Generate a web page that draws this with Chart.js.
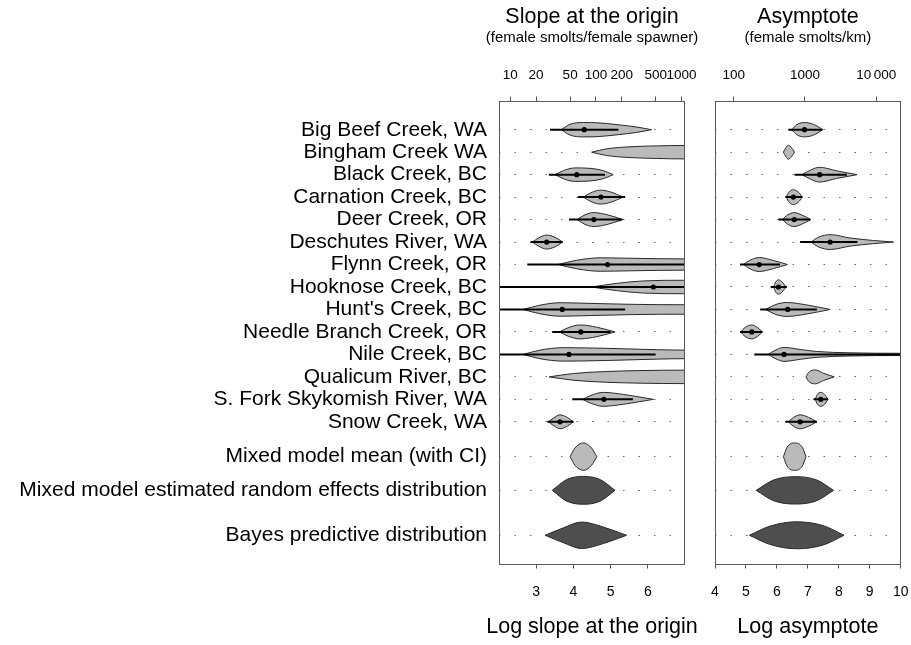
<!DOCTYPE html>
<html>
<head>
<meta charset="utf-8">
<script src="https://cdn.jsdelivr.net/npm/chart.js@4.4.0/dist/chart.umd.min.js"></script>
<style>
  html, body { margin: 0; padding: 0; background: #fff; overflow: hidden; }
  #wrap { position: relative; width: 911px; height: 645px; overflow: hidden; }
  #left { position: absolute; left: 0; top: 0; z-index: 1; }
  #right { position: absolute; left: 700px; top: 0; z-index: 2; }
</style>
</head>
<body>
<div id="wrap">
  <canvas id="left" width="1184" height="645"></canvas>
  <canvas id="right" width="211" height="645"></canvas>
</div>
<script>
var rowLabels = [
  'Big Beef Creek, WA', 'Bingham Creek WA', 'Black Creek, BC', 'Carnation Creek, BC',
  'Deer Creek, OR', 'Deschutes River, WA', 'Flynn Creek, OR', 'Hooknose Creek, BC',
  "Hunt's Creek, BC", 'Needle Branch Creek, OR', 'Nile Creek, BC', 'Qualicum River, BC',
  'S. Fork Skykomish River, WA', 'Snow Creek, WA', 'Mixed model mean (with CI)',
  'Mixed model estimated random effects distribution', 'Bayes predictive distribution'
];
var rowPos = [0, 1, 2, 3, 4, 5, 6, 7, 8, 9, 10, 11, 12, 13, 14.55, 16.05, 18.05];

// posterior outlines: [log value, half width (rows)]
var slopeShapes = [
  [[3.67,0],[3.91,0.24],[4.27,0.32],[4.63,0.31],[5.21,0.22],[5.7,0.12],[6.1,0]],
  [[4.49,0],[4.9,0.15],[5.52,0.24],[6.24,0.28],[7.0,0.3],[7.4,0.3]],
  [[3.51,0],[3.73,0.18],[4.04,0.3],[4.45,0.28],[4.8,0.18],[5.07,0]],
  [[4.27,0],[4.45,0.18],[4.72,0.31],[4.98,0.24],[5.34,0]],
  [[4.1,0],[4.31,0.21],[4.54,0.31],[4.9,0.22],[5.33,0]],
  [[2.9,0],[3.06,0.18],[3.28,0.31],[3.51,0.21],[3.71,0]],
  [[3.59,0],[4.09,0.19],[4.72,0.3],[5.52,0.28],[7.0,0.25],[7.4,0.25]],
  [[4.49,0],[5.16,0.16],[5.88,0.27],[7.0,0.3],[7.4,0.3]],
  [[2.65,0],[3.1,0.19],[3.64,0.3],[4.45,0.27],[5.52,0.23],[7.0,0.21],[7.4,0.21]],
  [[3.62,0],[3.86,0.19],[4.18,0.31],[4.63,0.21],[5.12,0]],
  [[2.65,0],[3.1,0.19],[3.73,0.3],[4.9,0.27],[6.24,0.21],[7.0,0.19],[7.4,0.19]],
  [[3.35,0],[4.0,0.15],[4.9,0.24],[5.79,0.28],[7.0,0.3],[7.4,0.3]],
  [[4.25,0],[4.45,0.16],[4.8,0.31],[5.34,0.22],[5.79,0.1],[6.15,0]],
  [[3.33,0],[3.46,0.16],[3.64,0.31],[3.84,0.19],[4.0,0]],
  [[3.91,0],[4.04,0.38],[4.27,0.61],[4.49,0.38],[4.63,0]],
  [[3.43,0],[3.82,0.48],[4.27,0.62],[4.72,0.48],[5.12,0]],
  [[3.24,0],[3.73,0.33],[4.22,0.59],[4.8,0.37],[5.43,0]]
];
var slopeCI = [[3.37,5.21], null, [3.34,4.85], [4.12,5.39], [3.88,5.3], [2.85,3.71], [2.76,7.5],
  [1.9,7.5], [2.03,5.39], [3.43,5.0], [1.9,6.21], null, [3.97,5.6], [3.3,4.0]];
var slopeEst = [4.29, null, 4.09, 4.74, 4.55, 3.28, 4.92, 6.15, 3.7, 4.2, 3.88, null, 4.82, 3.64];

var asymShapes = [
  [[6.48,0],[6.64,0.22],[6.89,0.32],[7.18,0.24],[7.49,0]],
  [[6.21,0],[6.29,0.2],[6.37,0.31],[6.47,0.2],[6.57,0]],
  [[6.81,0],[7.1,0.21],[7.37,0.33],[7.93,0.17],[8.59,0]],
  [[6.3,0],[6.4,0.24],[6.53,0.33],[6.68,0.24],[6.83,0]],
  [[6.18,0],[6.34,0.2],[6.56,0.31],[6.81,0.2],[7.1,0]],
  [[7.1,0],[7.35,0.22],[7.72,0.33],[8.37,0.18],[9.12,0.07],[9.77,0]],
  [[4.92,0],[5.13,0.19],[5.43,0.31],[5.89,0.18],[6.34,0]],
  [[5.89,0],[5.96,0.22],[6.05,0.32],[6.17,0.22],[6.3,0]],
  [[5.64,0],[5.94,0.21],[6.32,0.31],[6.97,0.2],[7.72,0]],
  [[4.83,0],[4.97,0.2],[5.19,0.31],[5.37,0.2],[5.53,0]],
  [[5.72,0],[5.94,0.18],[6.23,0.31],[6.75,0.22],[7.29,0.13],[8.37,0.07],[10,0.05],[10.4,0.05]],
  [[6.94,0],[7.02,0.19],[7.24,0.31],[7.51,0.16],[7.85,0]],
  [[7.24,0],[7.31,0.22],[7.42,0.31],[7.54,0.22],[7.65,0]],
  [[6.37,0],[6.53,0.19],[6.75,0.31],[7.02,0.2],[7.29,0]],
  [[6.21,0],[6.33,0.42],[6.57,0.61],[6.82,0.42],[6.94,0]],
  [[5.33,0],[5.89,0.46],[6.59,0.61],[7.29,0.46],[7.83,0]],
  [[5.11,0],[5.78,0.41],[6.64,0.6],[7.5,0.43],[8.17,0]]
];
var asymCI = [[6.37,7.45], null, [6.57,8.26], [6.27,6.81], [6.05,7.07], [6.75,8.6], [4.81,6.1],
  [5.8,6.32], [5.46,7.29], [4.81,5.53], [5.27,10.4], null, [7.18,7.65], [6.27,7.29]];
var asymEst = [6.89, null, 7.38, 6.53, 6.56, 7.72, 5.43, 6.05, 6.35, 5.19, 6.23, null, 7.42, 6.75];

var slopeTopTicks = [10, 20, 50, 100, 200, 500, 1000];
var slopeLogTicks = [3, 4, 5, 6];
var asymTopTicks = [100, 1000, 10000];
var asymTopText = ['100', '1000', '10\u2009000'];
var asymLogTicks = [4, 5, 6, 7, 8, 9, 10];

Chart.defaults.font.family = '"Liberation Sans", Arial, Helvetica, sans-serif';
Chart.defaults.color = '#000';

function buildDatasets(shapes, ci, est) {
  var ds = [];
  shapes.forEach(function (pts, i) {
    var dark = i >= 15;
    var y0 = rowPos[i];
    var common = {
      borderColor: '#2a2a2a', borderWidth: 1, pointRadius: 0,
      cubicInterpolationMode: 'monotone', order: 3
    };
    ds.push(Object.assign({
      data: pts.map(function (p) { return {x: p[0], y: y0 - p[1]}; }),
      fill: '+1', backgroundColor: dark ? '#4e4e4e' : '#bababa'
    }, common));
    ds.push(Object.assign({
      data: pts.map(function (p) { return {x: p[0], y: y0 + p[1]}; }),
      fill: false
    }, common));
  });
  ci.forEach(function (c, i) {
    if (!c) return;
    ds.push({
      data: [{x: c[0], y: rowPos[i]}, {x: c[1], y: rowPos[i]}],
      borderColor: '#000', borderWidth: 2, pointRadius: 0, fill: false, order: 2
    });
  });
  var dots = [];
  est.forEach(function (e, i) { if (e != null) dots.push({x: e, y: rowPos[i]}); });
  ds.push({
    data: dots, showLine: false, pointRadius: 2.6, pointBorderWidth: 0,
    pointBackgroundColor: '#000', backgroundColor: '#000', order: 1
  });
  return ds;
}

var boxPlugin = {
  id: 'box',
  afterDatasetsDraw: function (chart) {
    var a = chart.chartArea, c = chart.ctx;
    c.save();
    c.strokeStyle = '#5a5a5a';
    c.lineWidth = 1;
    c.strokeRect(Math.round(a.left) + 0.5, Math.round(a.top) + 0.5,
      Math.round(a.right - a.left) - 1, Math.round(a.bottom - a.top) - 1);
    c.restore();
  }
};

// extra title block under the plot (same element as the built-in title)
var captionBoxes = new WeakMap();
var captionPlugin = {
  id: 'caption',
  start: function (chart, args, options) {
    var box = new Chart.Title._element({ctx: chart.ctx, options: options, chart: chart});
    Chart.layouts.configure(chart, box, options);
    Chart.layouts.addBox(chart, box);
    captionBoxes.set(chart, box);
  },
  stop: function (chart) {
    Chart.layouts.removeBox(chart, captionBoxes.get(chart));
    captionBoxes.delete(chart);
  },
  beforeUpdate: function (chart, args, options) {
    var box = captionBoxes.get(chart);
    Chart.layouts.configure(chart, box, options);
    box.options = options;
  },
  defaults: {
    align: 'center', display: true, font: {weight: 'normal'}, fullSize: true,
    padding: 0, position: 'bottom', text: '', weight: 1000, color: '#000'
  }
};

function setTicks(vals) {
  return function (scale) {
    scale.ticks = vals.map(function (v) { return {value: v}; });
  };
}

function makeChart(canvas, o) {
  var scales = {
    x: {
      type: 'linear', position: 'bottom', min: o.min, max: o.max,
      afterFit: function (s) { s.height = 52; s.paddingLeft = 0; s.paddingRight = 0; },
      afterBuildTicks: setTicks(o.bottomTicks),
      ticks: {
        autoSkip: false, maxRotation: 0, padding: 15.6, font: {size: 14},
        callback: function (v, i) { return String(o.bottomTicks[i]); }
      },
      grid: {drawOnChartArea: false, drawTicks: true, tickLength: 4, color: '#555'},
      border: {display: false}
    },
    x2: {
      type: 'linear', position: 'top', min: o.min, max: o.max,
      afterFit: function (s) { s.height = 55.5; s.paddingLeft = 0; s.paddingRight = 0; },
      afterBuildTicks: setTicks(o.topTicks.map(function (v) { return Math.log(v); })),
      ticks: {
        autoSkip: false, maxRotation: 0, padding: 12.9, font: {size: 13.5},
        callback: function (v, i) { return o.topText[i]; }
      },
      grid: {drawOnChartArea: false, drawTicks: true, tickLength: 4, color: '#555'},
      border: {display: false}
    },
    y: {
      type: 'linear', min: -1.3, max: 19.35, reverse: true,
      afterFit: function (s) { s.width = o.yWidth; s.paddingTop = 0; s.paddingBottom = 0; },
      afterBuildTicks: setTicks(rowPos),
      ticks: {
        display: o.showLabels, autoSkip: false, padding: 12, font: {size: 21},
        callback: function (v, i) { return rowLabels[i]; }
      },
      grid: {drawTicks: false, color: '#666', lineWidth: 1},
      border: {display: false, dash: [1.5, 14]}
    }
  };
  if (o.rightWidth) {
    // empty right-hand box so the headings centre on the panel
    scales.yR = {
      type: 'linear', position: 'right', min: -1.3, max: 19.35,
      afterFit: function (s) { s.width = o.rightWidth; s.paddingTop = 0; s.paddingBottom = 0; },
      ticks: {display: false}, grid: {display: false}, border: {display: false}
    };
  }
  return new Chart(canvas, {
    type: 'line',
    data: {datasets: o.datasets},
    options: {
      responsive: false,
      animation: false,
      devicePixelRatio: 1,
      layout: {padding: o.padding},
      plugins: {
        legend: {display: false},
        tooltip: {enabled: false},
        filler: {drawTime: 'beforeDatasetsDraw'},
        title: {
          display: true, text: o.title, fullSize: o.wide,
          font: {size: 21.5, weight: 'normal', lineHeight: 1},
          padding: {top: 6.5, bottom: 0}
        },
        subtitle: {
          display: true, text: o.subtitle, fullSize: o.wide, color: '#000',
          font: {size: 15, lineHeight: 1},
          padding: {top: 2, bottom: 0}
        },
        caption: {
          text: o.xTitle, fullSize: o.wide,
          font: {size: 21.5, lineHeight: 1},
          padding: {top: 0, bottom: 7}
        }
      },
      scales: scales
    },
    plugins: [boxPlugin, captionPlugin]
  });
}

makeChart(document.getElementById('left'), {
  datasets: buildDatasets(slopeShapes, slopeCI, slopeEst),
  padding: {left: 0, right: 0, top: 0, bottom: 0},
  title: 'Slope at the origin',
  subtitle: '(female smolts/female spawner)',
  xTitle: 'Log slope at the origin',
  min: 2, max: 7,
  bottomTicks: slopeLogTicks,
  topTicks: slopeTopTicks,
  topText: slopeTopTicks.map(String),
  yWidth: 499,
  rightWidth: 499,
  wide: true,
  showLabels: true
});

makeChart(document.getElementById('right'), {
  datasets: buildDatasets(asymShapes, asymCI, asymEst),
  padding: {left: 15, right: 10.3, top: 0, bottom: 0},
  title: 'Asymptote',
  subtitle: '(female smolts/km)',
  xTitle: 'Log asymptote',
  min: 4, max: 10,
  bottomTicks: asymLogTicks,
  topTicks: asymTopTicks,
  topText: asymTopText,
  yWidth: 0,
  rightWidth: 0,
  wide: false,
  showLabels: false
});
</script>
</body>
</html>
